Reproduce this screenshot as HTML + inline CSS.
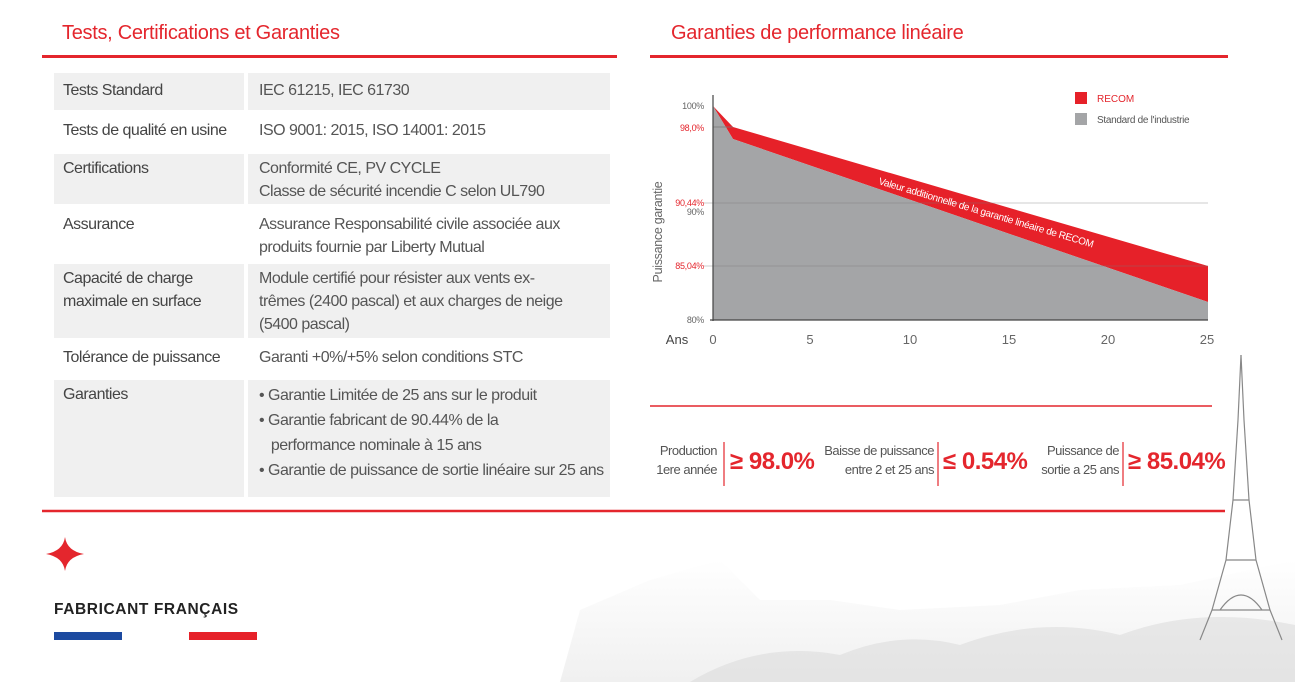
<!DOCTYPE html>
<html><head><meta charset="utf-8"><style>
*{margin:0;padding:0;box-sizing:border-box}
body{width:1295px;height:682px;background:#fff;position:relative;overflow:hidden;font-family:"Liberation Sans",sans-serif;color:#555}
.a{position:absolute}
.h{color:#e4262d;font-size:20px;letter-spacing:-0.3px;white-space:nowrap}
.cell{position:absolute;font-size:16px;letter-spacing:-0.5px;line-height:23px;padding:6px 0 0 9px;color:#555;white-space:nowrap}
.g{background:#f0f0f0}
.l{color:#444;left:54px;width:190px}
.r{left:248px;width:362px;padding-left:11px}
.red{color:#e4262d;white-space:nowrap;letter-spacing:-0.5px}
.st{font-size:13px;letter-spacing:-0.5px;line-height:19px;color:#555;text-align:right;white-space:nowrap}
</style></head><body>
<div class="a h" style="left:62px;top:22px">Tests, Certifications et Garanties</div>
<div class="a" style="left:42px;top:55px;width:575px;height:3px;background:#e4262d"></div>
<div class="a h" style="left:671px;top:22px">Garanties de performance linéaire</div>
<div class="a" style="left:650px;top:55px;width:578px;height:3px;background:#e4262d"></div>

<div class="cell l g" style="top:73px;height:37px">Tests Standard</div>
<div class="cell r g" style="top:73px;height:37px">IEC 61215, IEC 61730</div>
<div class="cell l" style="top:113px;height:40px">Tests de qualité en usine</div>
<div class="cell r" style="top:113px;height:40px">ISO 9001: 2015, ISO 14001: 2015</div>
<div class="cell l g" style="top:154px;height:50px;padding-top:3px">Certifications</div>
<div class="cell r g" style="top:154px;height:50px;padding-top:3px">Conformité CE, PV CYCLE<br>Classe de sécurité incendie C selon UL790</div>
<div class="cell l" style="top:206px;height:56px;padding-top:7px">Assurance</div>
<div class="cell r" style="top:206px;height:56px;padding-top:7px">Assurance Responsabilité civile associée aux<br>produits fournie par Liberty Mutual</div>
<div class="cell l g" style="top:264px;height:74px;padding-top:3px">Capacité de charge<br>maximale en surface</div>
<div class="cell r g" style="top:264px;height:74px;padding-top:3px">Module certifié pour résister aux vents ex-<br>trêmes (2400 pascal) et aux charges de neige<br>(5400 pascal)</div>
<div class="cell l" style="top:340px;height:40px;padding-top:6px">Tolérance de puissance</div>
<div class="cell r" style="top:340px;height:40px;padding-top:6px">Garanti +0%/+5% selon conditions STC</div>
<div class="cell l g" style="top:380px;height:117px;padding-top:3px">Garanties</div>
<div class="cell r g" style="top:380px;height:117px;padding-top:3px;line-height:25px">• Garantie Limitée de 25 ans sur le produit<br>• Garantie fabricant de 90.44% de la<br>&nbsp;&nbsp;&nbsp;performance nominale à 15 ans<br>• Garantie de puissance de sortie linéaire sur 25 ans</div>

<svg class="a" style="left:0;top:0" width="1295" height="682">
 <defs><linearGradient id="fg" x1="0" y1="0" x2="0" y2="1"><stop offset="0" stop-color="#fff"/><stop offset="1" stop-color="#e6e6e6"/></linearGradient></defs>
 <path d="M560 682 L580 610 L650 580 L720 560 L760 600 L830 600 L900 610 L1000 605 L1080 590 L1180 585 L1295 560 L1295 682Z" fill="url(#fg)" opacity="0.6"/>
 <path d="M690 682 Q760 640 840 655 Q900 630 960 645 Q1040 615 1120 635 Q1200 605 1295 625 L1295 682Z" fill="#d8d8d8" opacity="0.5"/>
 <g stroke="#888" stroke-width="1.2" fill="none">
  <path d="M1241 355 L1238 420 L1233 500 L1226 560 L1212 610 L1200 640"/>
  <path d="M1241 355 L1244 420 L1249 500 L1256 560 L1270 610 L1282 640"/>
  <path d="M1226 560 L1256 560 M1212 610 L1270 610 M1233 500 L1249 500 M1220 610 Q1241 580 1262 610"/>
 </g>
 <polygon points="713,106 733,127 1208,266 1208,302 733,139" fill="#e62129"/>
 <polygon points="713,106 733,139 1208,302 1208,320 713,320" fill="#a4a5a7"/>
 <g stroke="#777" stroke-width="0.8"><line x1="713" y1="127" x2="733" y2="127"/><line x1="704" y1="203" x2="1208" y2="203" stroke-opacity=".5"/><line x1="704" y1="266" x2="1208" y2="266" stroke-opacity=".5"/></g>
 <line x1="713" y1="95" x2="713" y2="321" stroke="#444" stroke-width="1.2"/>
 <line x1="710" y1="320" x2="1208" y2="320" stroke="#444" stroke-width="1.2"/>
 <g font-family="Liberation Sans,sans-serif" font-size="9" text-anchor="end" letter-spacing="-0.3">
  <text x="704" y="109" fill="#666">100%</text><text x="704" y="131" fill="#e4262d">98,0%</text>
  <text x="704" y="206" fill="#e4262d">90,44%</text><text x="704" y="215" fill="#666">90%</text>
  <text x="704" y="269" fill="#e4262d">85,04%</text><text x="704" y="323" fill="#666">80%</text>
 </g>
 <g font-family="Liberation Sans,sans-serif" font-size="13" fill="#666" text-anchor="middle">
  <text x="677" y="344" fill="#444">Ans</text><text x="713" y="344">0</text><text x="810" y="344">5</text><text x="910" y="344">10</text><text x="1009" y="344">15</text><text x="1108" y="344">20</text><text x="1207" y="344">25</text>
 </g>
 <text transform="translate(662,232) rotate(-90)" text-anchor="middle" font-family="Liberation Sans,sans-serif" font-size="12.5" letter-spacing="-0.3" fill="#666">Puissance garantie</text>
 <text transform="translate(878,184) rotate(16.5)" font-family="Liberation Sans,sans-serif" font-size="10" letter-spacing="-0.3" fill="#fff">Valeur additionnelle de la garantie linéaire de RECOM</text>
 <rect x="1075" y="92" width="12" height="12" fill="#e62129"/><rect x="1075" y="113" width="12" height="12" fill="#a4a5a7"/>
 <text x="1097" y="102" font-family="Liberation Sans,sans-serif" font-size="10" fill="#e4262d">RECOM</text>
 <text x="1097" y="123" font-family="Liberation Sans,sans-serif" font-size="10" fill="#555" letter-spacing="-0.3">Standard de l'industrie</text>
 <line x1="650" y1="406" x2="1212" y2="406" stroke="#e4262d" stroke-width="1.5"/>
 <line x1="42" y1="511" x2="1225" y2="511" stroke="#e4262d" stroke-width="2.5"/>
 <g stroke="#e4262d" stroke-width="1.2"><line x1="724" y1="442" x2="724" y2="486"/><line x1="938" y1="442" x2="938" y2="486"/><line x1="1123" y1="442" x2="1123" y2="486"/></g>
 <path d="M65 537 Q67 551 84 554 Q67 557 65 571 Q63 557 46 554 Q63 551 65 537Z" fill="#e4262d"/>
 <rect x="54" y="632" width="68" height="8" fill="#1c4aa0"/><rect x="189" y="632" width="68" height="8" fill="#e62129"/>
</svg>
<div class="a" style="left:54px;top:601px;font-weight:bold;font-size:15.5px;color:#222;letter-spacing:.6px">FABRICANT FRANÇAIS</div>
<div class="a st" style="right:578px;top:441px">Production<br>1ere année</div>
<div class="a red" style="left:730px;top:448px;font-size:24px;font-weight:bold">≥ 98.0%</div>
<div class="a st" style="right:361px;top:441px">Baisse de puissance<br>entre 2 et 25 ans</div>
<div class="a red" style="left:943px;top:448px;font-size:24px;font-weight:bold">≤ 0.54%</div>
<div class="a st" style="right:176px;top:441px">Puissance de<br>sortie a 25 ans</div>
<div class="a red" style="left:1128px;top:448px;font-size:24px;font-weight:bold">≥ 85.04%</div>
</body></html>
